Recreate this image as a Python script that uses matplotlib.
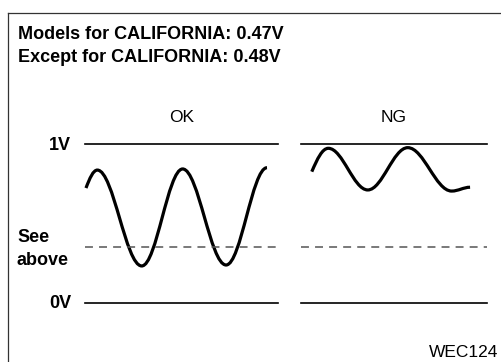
import numpy as np
import matplotlib
matplotlib.use("Agg")
import matplotlib.pyplot as plt
from matplotlib.path import Path
from matplotlib.patches import PathPatch

W, H = 502, 362

# Textos do diagrama
header = ["Models for CALIFORNIA: 0.47V", "Except for CALIFORNIA: 0.48V"]
panel_titles = ["OK", "NG"]
level_labels = ["1V", "0V"]
ref_label = ["See", "above"]
code = "WEC124"

# Niveis de tensao (V) das linhas de referencia
v_high = 1.0
v_low = 0.0
v_ref = 0.35

# Pontos chave das ondas (inicio, picos, vales, fim): tempo relativo e tensao
ok_t = [0.005, 0.064, 0.294, 0.506, 0.731, 0.943]
ok_v = [0.723, 0.836, 0.233, 0.843, 0.239, 0.851]
ng_t = [0.058, 0.147, 0.359, 0.574, 0.810, 0.909]
ng_v = [0.826, 0.973, 0.711, 0.977, 0.704, 0.728]

plt.rcParams['font.family'] = ['Liberation Sans', 'DejaVu Sans']

fig = plt.figure(figsize=(W / 100, H / 100), dpi=100)
fig.patch.set_facecolor('white')


def px(x, y):
    # converte pixels (origem no topo) para fracao da figura
    return x / W, 1 - y / H


# Moldura (so esquerda e topo aparecem)
fig.add_artist(plt.Line2D([8 / W, 8 / W], [0, 1 - 13 / H], color='#333333', lw=0.9))
fig.add_artist(plt.Line2D([8 / W, 1], [1 - 13 / H, 1 - 13 / H], color='#333333', lw=0.9))

fig.text(*px(18, 39), header[0], fontsize=13, fontweight='bold', va='baseline', ha='left')
fig.text(*px(18, 62), header[1], fontsize=13, fontweight='bold', va='baseline', ha='left')


def wave_path(t, v):
    # curvas de Bezier entre extremos, tangentes horizontais nos picos/vales
    verts = [(t[0], v[0])]
    codes = [Path.MOVETO]
    k = 0.3642
    n = len(t)
    for i in range(n - 1):
        x0, y0, x1, y1 = t[i], v[i], t[i + 1], v[i + 1]
        dx = x1 - x0
        if i == 0:
            c1 = (x0 + dx / 3, y0 + (y1 - y0) * 0.55)
        else:
            c1 = (x0 + k * dx, y0)
        c2 = (x1 - k * dx, y1)
        verts += [c1, c2, (x1, y1)]
        codes += [Path.CURVE4] * 3
    return Path(verts, codes)


bottom = 1 - 303 / H
height = (303 - 144) / H
panels = [
    (85 / W, 193 / W, ok_t, ok_v),
    (301 / W, 186 / W, ng_t, ng_v),
]
for (left, width, t, v), title in zip(panels, panel_titles):
    ax = fig.add_axes([left, bottom, width, height])
    ax.set_xlim(0, 1)
    ax.set_ylim(v_low, v_high)
    ax.axis('off')
    ax.axhline(v_high, color='black', lw=1.2, clip_on=False)
    ax.axhline(v_low, color='black', lw=1.2, clip_on=False)
    ax.axhline(v_ref, color='#555555', lw=1.1, dashes=(5.2, 4.0), clip_on=False)
    ax.add_patch(PathPatch(wave_path(t, v), fill=False, lw=2.3, color='black',
                           capstyle='butt', clip_on=False))
    ax.text(0.5, 1 + 27 / 159, title, transform=ax.transAxes, fontsize=12.5,
            ha='center', va='center')

fig.text(*px(71, 145), level_labels[0], fontsize=13, fontweight='bold', ha='right', va='center')
fig.text(*px(71, 304), level_labels[1], fontsize=13, fontweight='bold', ha='right', va='center')
fig.text(*px(17, 242), ref_label[0], fontsize=13, fontweight='bold', ha='left', va='baseline')
fig.text(*px(17, 265), ref_label[1], fontsize=13, fontweight='bold', ha='left', va='baseline')
fig.text(*px(498, 357), code, fontsize=12.5, ha='right', va='baseline')

fig.savefig('out.png', dpi=100)
